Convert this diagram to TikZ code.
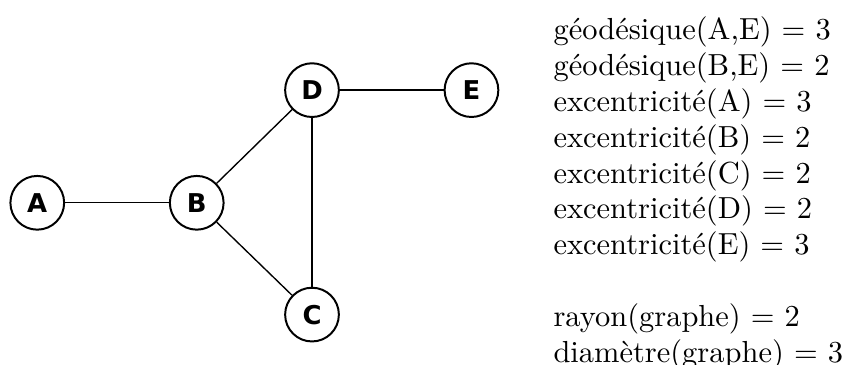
\documentclass[tikz,border=0pt]{standalone}
\usepackage{fontspec}
\newfontfamily\nodefont{DejaVu Sans}
\begin{document}
\begin{tikzpicture}[vertex/.style={draw, circle, line width=0.65pt, minimum size=0.62cm, inner sep=0pt, font=\nodefont\bfseries\fontsize{8.5}{10}\selectfont}]
	\useasboundingbox (0,0) rectangle (9.75,4.21);
	\node[vertex] (A) at (0.43,1.87) {A};
	\node[vertex] (B) at (2.27,1.87) {B};
	\node[vertex] (D) at (3.60,3.17) {D};
	\node[vertex] (E) at (5.44,3.17) {E};
	\node[vertex] (C) at (3.60,0.58) {C};
	% Edges
	\draw[line width=0.45pt] (A) -- (B);
	\draw[line width=0.45pt] (B) -- (D);
	\draw[line width=0.45pt] (B) -- (C);
	\draw[line width=0.45pt] (D) -- (C);
	\draw[line width=0.45pt] (D) -- (E);
	% Results
	\node[anchor=north west, inner sep=0pt, align=left, font=\fontsize{10}{11.75}\selectfont] (results) at (6.38,4.02) {%
		géodésique(A,E) $=$ 3\\
		géodésique(B,E) $=$ 2\\
		excentricité(A) $=$ 3\\
		excentricité(B) $=$ 2\\
		excentricité(C) $=$ 2\\
		excentricité(D) $=$ 2\\
		excentricité(E) $=$ 3\\[11.75pt]
		rayon(graphe) $=$ 2\\
		diamètre(graphe) $=$ 3};
\end{tikzpicture}
\end{document}
